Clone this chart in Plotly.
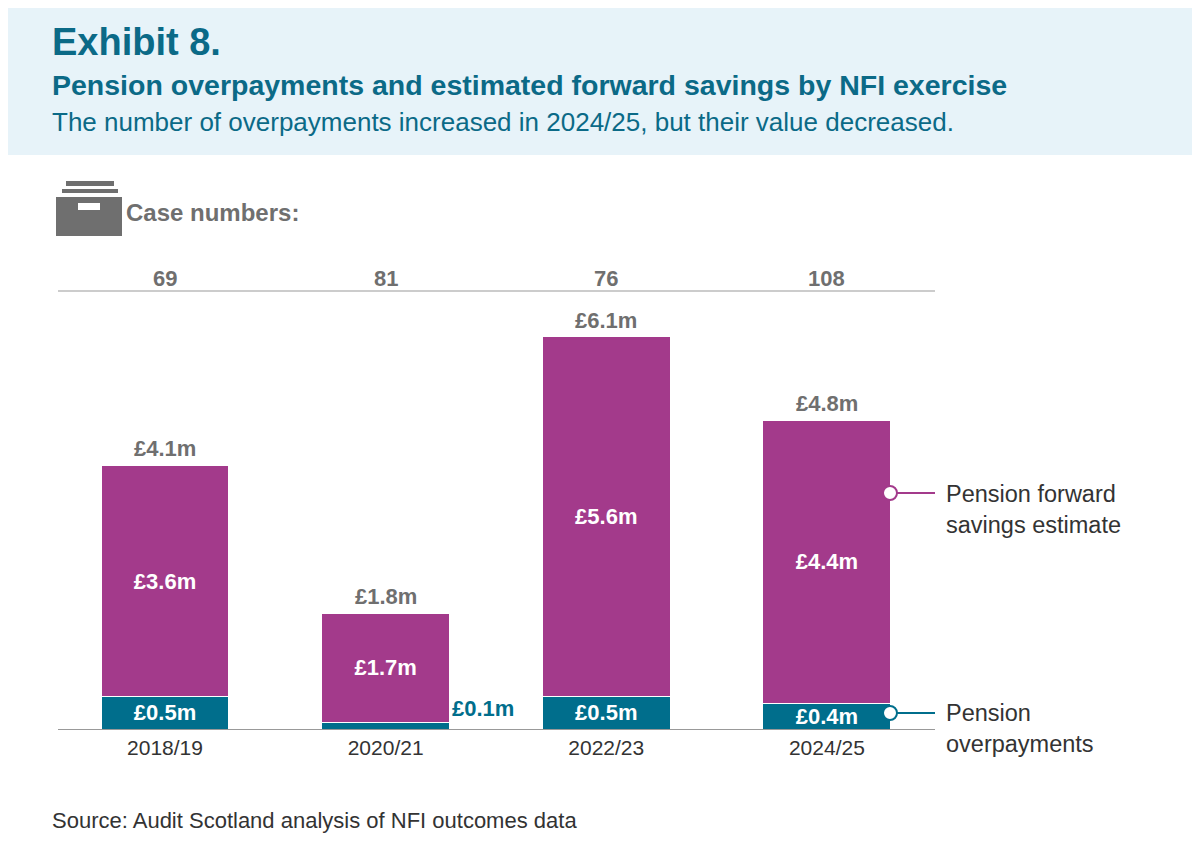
import plotly.graph_objects as go

years = ["2018/19", "2020/21", "2022/23", "2024/25"]
overpayments = [0.5, 0.1, 0.5, 0.4]
forward_savings = [3.6, 1.7, 5.6, 4.4]
totals = [4.1, 1.8, 6.1, 4.8]
cases = [69, 81, 76, 108]

PURPLE = "#a33a8b"
TEAL = "#006e8c"
GREY = "#6f6f6f"
DARK = "#0b6a87"
FONT = "Liberation Sans"

# page offset: the figure is drawn 8px in from the page corner
# pixel helpers for the plot area (page coords: left 58, right 935, top 291, bottom 729)
def px(x):
    return (x - 58) / 877
def py(y):
    return (729 - y) / 438

xs = list(range(len(years)))
fig = go.Figure()

fig.add_trace(go.Bar(x=xs, y=overpayments, marker=dict(color=TEAL, line=dict(color="white", width=1)),
                     width=0.58, name="Pension overpayments",
                     text=[f"<b>£{v}m</b>" if v >= 0.3 else "" for v in overpayments],
                     textposition="inside", insidetextanchor="middle", constraintext="none",
                     textfont=dict(color="white", size=22, family=FONT)))
fig.add_trace(go.Bar(x=xs, y=forward_savings, marker=dict(color=PURPLE, line=dict(color="white", width=1)),
                     width=0.58, name="Pension forward savings estimate",
                     text=[f"<b>£{v}m</b>" for v in forward_savings],
                     textposition="inside", insidetextanchor="middle", constraintext="none",
                     textfont=dict(color="white", size=22, family=FONT)))

ann = []
for i, t in enumerate(totals):
    ann.append(dict(x=i, y=t, yshift=2, text=f"<b>£{t}m</b>", showarrow=False, yanchor="bottom",
                    font=dict(size=22, color=GREY, family=FONT)))
for i, c in enumerate(cases):
    ann.append(dict(x=i, y=py(264), yref="paper", text=f"<b>{c}</b>", showarrow=False,
                    font=dict(size=22, color=GREY, family=FONT)))
ann.append(dict(x=1.29, y=overpayments[1], text="<b>£0.1m</b>", showarrow=False, xanchor="left",
                yanchor="bottom", font=dict(size=22, color=TEAL, family=FONT)))

ann += [
    dict(x=px(50), y=py(42), xref="paper", yref="paper", xanchor="left", yanchor="middle", showarrow=False,
         text="<b>Exhibit 8.</b>", font=dict(size=38, color=DARK, family=FONT)),
    dict(x=px(50), y=py(85), xref="paper", yref="paper", xanchor="left", yanchor="middle", showarrow=False,
         text="<b>Pension overpayments and estimated forward savings by NFI exercise</b>",
         font=dict(size=28.5, color=DARK, family=FONT)),
    dict(x=px(50), y=py(122), xref="paper", yref="paper", xanchor="left", yanchor="middle", showarrow=False,
         text="The number of overpayments increased in 2024/25, but their value decreased.",
         font=dict(size=26, color=DARK, family=FONT)),
    dict(x=px(124), y=py(212), xref="paper", yref="paper", xanchor="left", yanchor="middle", showarrow=False,
         text="<b>Case numbers:</b>", font=dict(size=24, color=GREY, family=FONT)),
    dict(x=px(944), y=py(509), xref="paper", yref="paper", xanchor="left", yanchor="middle", showarrow=False,
         align="left", text="Pension forward<br>savings estimate", font=dict(size=23.5, color="#333", family=FONT)),
    dict(x=px(944), y=py(728), xref="paper", yref="paper", xanchor="left", yanchor="middle", showarrow=False,
         align="left", text="Pension<br>overpayments", font=dict(size=23.5, color="#333", family=FONT)),
    dict(x=px(50), y=py(820), xref="paper", yref="paper", xanchor="left", yanchor="middle", showarrow=False,
         text="Source: Audit Scotland analysis of NFI outcomes data", font=dict(size=22, color="#333", family=FONT)),
]

shapes = [
    dict(type="rect", xref="paper", yref="paper", x0=px(-20), x1=px(1220), y0=py(-20), y1=py(155),
         fillcolor="#e7f3f9", line=dict(width=0), layer="below"),
    dict(type="line", xref="paper", yref="paper", x0=0, x1=1, y0=1, y1=1, line=dict(color="#999", width=1)),
    # filing drawer icon
    dict(type="rect", xref="paper", yref="paper", x0=px(66), x1=px(114), y0=py(181), y1=py(186),
         fillcolor=GREY, line=dict(width=0)),
    dict(type="rect", xref="paper", yref="paper", x0=px(62), x1=px(118), y0=py(189), y1=py(193),
         fillcolor=GREY, line=dict(width=0)),
    dict(type="rect", xref="paper", yref="paper", x0=px(56), x1=px(122), y0=py(197), y1=py(236),
         fillcolor=GREY, line=dict(width=0)),
    dict(type="rect", xref="paper", yref="paper", x0=px(78), x1=px(100), y0=py(203), y1=py(210),
         fillcolor="white", line=dict(width=0)),
    # legend leaders
    dict(type="line", xref="paper", yref="paper", x0=px(890), x1=px(935), y0=py(493), y1=py(493),
         line=dict(color=PURPLE, width=2)),
    dict(type="circle", xref="paper", yref="paper", x0=px(883), x1=px(897), y0=py(486), y1=py(500),
         fillcolor="white", line=dict(color=PURPLE, width=2)),
    dict(type="line", xref="paper", yref="paper", x0=px(890), x1=px(935), y0=py(713), y1=py(713),
         line=dict(color=TEAL, width=2)),
    dict(type="circle", xref="paper", yref="paper", x0=px(883), x1=px(897), y0=py(706), y1=py(720),
         fillcolor="white", line=dict(color=TEAL, width=2)),
]

fig.update_layout(
    barmode="stack", width=1200, height=845, showlegend=False,
    margin=dict(l=50, r=273, t=283, b=124),
    paper_bgcolor="white", plot_bgcolor="white",
    font=dict(family=FONT),
    xaxis=dict(range=[-0.485, 3.49], tickvals=xs, ticktext=years, showgrid=False, zeroline=False,
               showline=True, linecolor="#999", tickfont=dict(size=21, color="#333")),
    yaxis=dict(range=[0, 438 / 64.3], visible=False, showgrid=False),
    annotations=ann, shapes=shapes,
)

fig.write_html("out.html")
